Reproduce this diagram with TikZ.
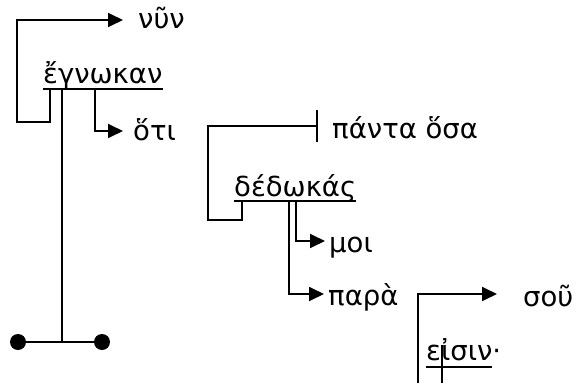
\documentclass[tikz,border=0pt]{standalone}
\usepackage{fontspec}
\setmainfont{DejaVu Sans}
\usetikzlibrary{arrows.meta, positioning}
\tikzset{greekword/.style={font=\fontsize{27.5}{32}\selectfont, inner sep=0pt, anchor=base west}}

\begin{document}
\begin{tikzpicture}[
        x=1pt, y=-1pt,
        line join=miter,
        branch/.style={line width=1.8pt},
        arrowbranch/.style={branch, -{Triangle[length=15pt, width=14pt]}},
        barbranch/.style={branch, -{Bar[width=32pt, line width=1.8pt]}},
        underline/.style={line width=2.8pt},
        footbar/.style={line width=2.8pt},
        footdot/.style={circle, fill=black, minimum size=16pt, inner sep=0pt}
    ]
        \useasboundingbox (0, 0) rectangle (581, 383);
        % Words
        \node[greekword] (nyn) at (138, 28) {νῦν};
        \node[greekword] (egnokan) at (43, 83) {ἔγνωκαν};
        \node[greekword] (hoti) at (133, 140) {ὅτι};
        \node[greekword] (panta) at (332, 138) {πάντα ὅσα};
        \node[greekword] (dedokas) at (234, 196) {δέδωκάς};
        \node[greekword] (moi) at (329, 252) {μοι};
        \node[greekword] (para) at (328, 305) {παρὰ};
        \node[greekword] (sou) at (523, 306) {σοῦ};
        \node[greekword] (eisin) at (426, 360) {εἰσιν·};
        % Underlines
        \draw[underline] ([yshift=-6pt]egnokan.base west) -- ([yshift=-6pt]egnokan.base east);
        \draw[underline] ([yshift=-5pt]dedokas.base west) -- ([yshift=-5pt]dedokas.base east);
        \draw[underline] ([yshift=-7pt]eisin.base west) -- ([yshift=-7pt, xshift=-9pt]eisin.base east);
        % Attachment points
        \coordinate (egnokanA) at (50, 89);
        \coordinate (egnokanB) at (62, 89);
        \coordinate (egnokanC) at (95, 89);
        \coordinate (dedokasA) at (242, 201);
        \coordinate (dedokasB) at (289, 201);
        \coordinate (dedokasC) at (296, 201);
        \coordinate (nynTip) at (123, 20);
        \coordinate (hotiTip) at (123, 131);
        \coordinate (pantaTip) at (318, 126);
        \coordinate (moiTip) at (325, 241);
        \coordinate (paraTip) at (324, 294);
        \coordinate (souTip) at (497, 294);
        \coordinate (paraFoot) at (418, 383);
        \coordinate (eisinTop) at (442, 345);
        \coordinate (eisinFoot) at (442, 383);
        % Feet
        \node[footdot] (footL) at (18, 342) {};
        \node[footdot] (footR) at (102, 342) {};
        \coordinate (stemFoot) at (62, 342);
        % Branches
        \draw[arrowbranch] (egnokanA) |- (17, 122) |- (nynTip);
        \draw[branch] (egnokanB) -- (stemFoot);
        \draw[footbar] (footL) -- (footR);
        \draw[arrowbranch] (egnokanC) |- (hotiTip);
        \draw[barbranch] (dedokasA) |- (208, 220) |- (pantaTip);
        \draw[arrowbranch] (dedokasC) |- (moiTip);
        \draw[arrowbranch] (dedokasB) |- (paraTip);
        \draw[arrowbranch] (paraFoot) |- (souTip);
        \draw[branch] (eisinTop) -- (eisinFoot);
    \end{tikzpicture}
\end{document}
